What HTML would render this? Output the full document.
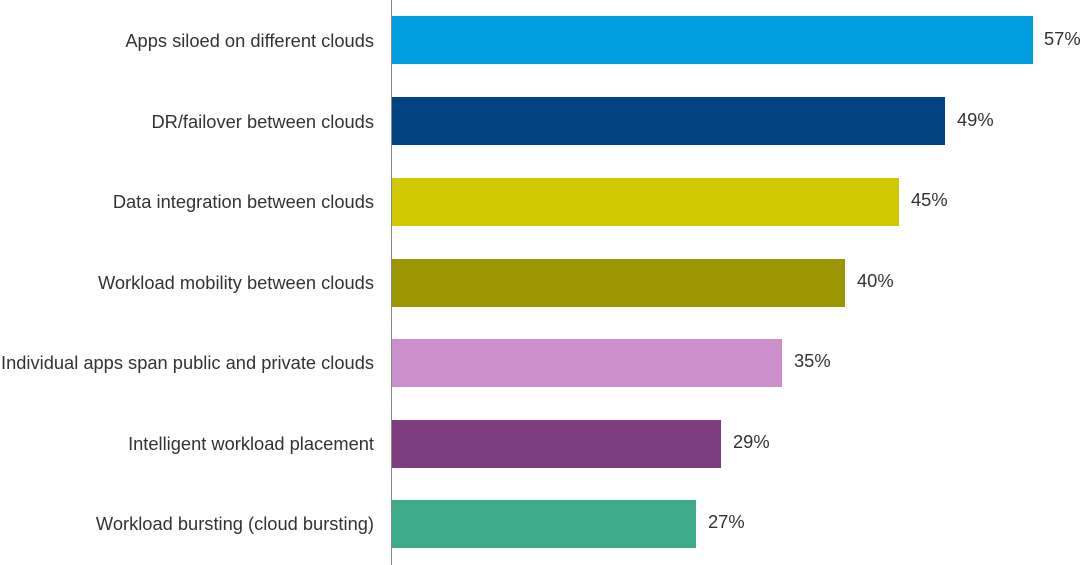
<!DOCTYPE html>
<html><head><style>
body{margin:0;width:1080px;height:565px;background:#fff;overflow:hidden;font-family:"Liberation Sans",sans-serif;}
svg{display:block}
text{font-family:"Liberation Sans",sans-serif;font-size:18.3px;fill:#333}
</style></head><body>
<svg width="1080" height="565">
<line x1="391.5" y1="0" x2="391.5" y2="565" stroke="#888" stroke-width="1"/>
<rect x="392" y="16" width="641" height="48" fill="#00a0e0"/>
<rect x="392" y="97" width="553" height="48" fill="#004481"/>
<rect x="392" y="178" width="507" height="48" fill="#d0c800"/>
<rect x="392" y="259" width="453" height="48" fill="#9a9500"/>
<rect x="392" y="339" width="390" height="48" fill="#cc8fcc"/>
<rect x="392" y="420" width="329" height="48" fill="#7e3d7e"/>
<rect x="392" y="500" width="304" height="48" fill="#3daa8a"/>
<g text-anchor="end">
<text x="374" y="47">Apps siloed on different clouds</text>
<text x="374" y="128">DR/failover between clouds</text>
<text x="374" y="208">Data integration between clouds</text>
<text x="374" y="289">Workload mobility between clouds</text>
<text x="374" y="369">Individual apps span public and private clouds</text>
<text x="374" y="450">Intelligent workload placement</text>
<text x="374" y="530">Workload bursting (cloud bursting)</text>
</g>
<text x="1044" y="45">57%</text>
<text x="957" y="126">49%</text>
<text x="911" y="206">45%</text>
<text x="857" y="287">40%</text>
<text x="794" y="367">35%</text>
<text x="733" y="448">29%</text>
<text x="708" y="528">27%</text>
</svg>
</body></html>
